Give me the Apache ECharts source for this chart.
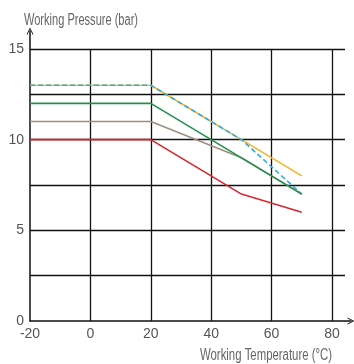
<!DOCTYPE html>
<html><head><meta charset="utf-8">
<script src="https://cdn.jsdelivr.net/npm/echarts@6/dist/echarts.min.js"></script>
<style>html,body{margin:0;padding:0;background:#fff}#c{width:354px;height:364px}</style>
</head><body><div id="c"></div>
<script>
var xTitle = 'Working Temperature (°C)';
var yTitle = 'Working Pressure (bar)';
var xTickLabels = [-20, 0, 20, 40, 60, 80];
var yTickLabels = [0, 5, 10, 15];

var orangeT = [-20, 20, 50, 70];
var orangeP = [13, 13, 10, 8];
var blueT = [-20, 20, 50, 70];
var blueP = [13, 13, 10, 7];
var grayT = [-20, 20, 50, 70];
var grayP = [11, 11, 9, 7];
var greenT = [-20, 20, 70];
var greenP = [12, 12, 7];
var redT = [-20, 20, 50, 70];
var redP = [10, 10, 7, 6];

function pts(t, p) { return t.map(function (v, i) { return [v, p[i]]; }); }

var titleFont = '16px "Liberation Sans", sans-serif';
var tickFont = '"Liberation Sans", sans-serif';
var chevron = 'path://M0,10 L5,0 L10,10 L8.6,10 L5,2.6 L1.4,10 Z';

var cv = document.createElement('canvas').getContext('2d');
cv.font = titleFont;
function fitScale(text, target) { return target / cv.measureText(text).width; }

var chart = echarts.init(document.getElementById('c'));
chart.setOption({
  animation: false,
  graphic: [
    { type: 'text', x: 24, y: 21, scaleX: fitScale(yTitle, 114), style: { text: yTitle, font: titleFont, fill: '#666', verticalAlign: 'middle' } },
    { type: 'text', x: 200, y: 356, scaleX: fitScale(xTitle, 132), style: { text: xTitle, font: titleFont, fill: '#666', verticalAlign: 'middle' } }
  ],
  grid: [
    { left: 30, right: 9, top: 49, bottom: 43 },
    { left: 30, right: 3, top: 31, bottom: 43 }
  ],
  xAxis: [
    {
      gridIndex: 0, type: 'value', min: -20, max: 84.3, interval: 20,
      axisLine: { show: false }, axisTick: { show: false },
      splitLine: { show: true, showMinLine: false, showMaxLine: false, lineStyle: { color: '#111', width: 1.3 } },
      axisLabel: {
        showMaxLabel: false, margin: 6,
        fontFamily: tickFont, fontSize: 14, color: '#555',
        formatter: function (v) { return xTickLabels.indexOf(v) >= 0 ? String(v) : ''; }
      }
    },
    {
      gridIndex: 1, type: 'value', min: 0, max: 1,
      axisLine: { show: true, symbol: ['none', chevron], symbolSize: [7, 10], lineStyle: { color: '#111', width: 1.5 } },
      axisTick: { show: false }, axisLabel: { show: false }, splitLine: { show: false }
    }
  ],
  yAxis: [
    {
      gridIndex: 0, type: 'value', min: 0, max: 15, interval: 2.5,
      axisLine: { show: false }, axisTick: { show: false },
      splitLine: { show: true, showMinLine: false, lineStyle: { color: '#111', width: 1.3 } },
      axisLabel: {
        margin: 6, fontFamily: tickFont, fontSize: 14, color: '#555',
        formatter: function (v) { return yTickLabels.indexOf(v) >= 0 ? String(v) : ''; }
      }
    },
    {
      gridIndex: 1, type: 'value', min: 0, max: 1,
      axisLine: { show: true, symbol: ['none', chevron], symbolSize: [7, 10], lineStyle: { color: '#111', width: 1.5 } },
      axisTick: { show: false }, axisLabel: { show: false }, splitLine: { show: false }
    }
  ],
  series: [
    { type: 'line', data: pts(orangeT, orangeP), showSymbol: false, lineStyle: { color: '#F7B52C', width: 1.6 } },
    { type: 'line', data: pts(blueT, blueP), showSymbol: false, lineStyle: { color: '#2AAEE0', width: 1.6, type: [5, 3] } },
    { type: 'line', data: pts(grayT, grayP), showSymbol: false, lineStyle: { color: '#9C9181', width: 1.6 } },
    { type: 'line', data: pts(greenT, greenP), showSymbol: false, lineStyle: { color: '#23914E', width: 1.6 } },
    { type: 'line', data: pts(redT, redP), showSymbol: false, lineStyle: { color: '#D7262E', width: 1.6 } }
  ]
});
</script>
</body></html>
